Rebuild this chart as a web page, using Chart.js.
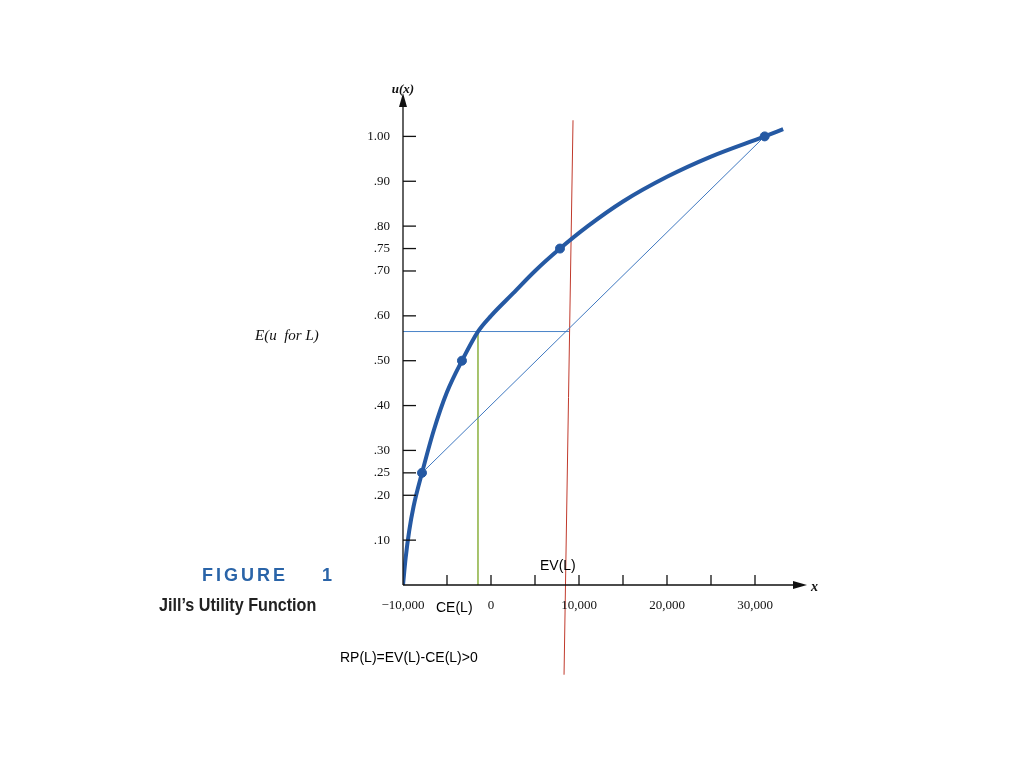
<!DOCTYPE html>
<html><head><meta charset="utf-8">
<script src="https://cdn.jsdelivr.net/npm/chart.js@4"></script>
<style>html,body{margin:0;background:#fff}#w{width:1024px;height:768px}</style>
</head><body><div id="w"><canvas id="c"></canvas></div>
<script>
const curveX = [-10000,-9700,-9300,-8800,-7840,-6500,-5000,-3300,-1480,0,2500,5000,7840,11000,15000,20000,25000,31100,33200];
const curveU = [0,0.06,0.12,0.175,0.25,0.345,0.43,0.5,0.565,0.6,0.65,0.7,0.75,0.8,0.855,0.91,0.955,1.0,1.016];
const lotteryX = [-7840,-3300,7840,31100];
const lotteryU = [0.25,0.5,0.75,1.0];
const chordX = [-7840,31100];
const chordU = [0.25,1.0];
const euX = [-10000,8860];
const euU = [0.565,0.565];
const ceX = [-1480,-1480];
const ceU = [0.565,0];
const evX = [9320,8300];
const evU = [1.036,-0.2];
const yTicks = [0.1,0.2,0.25,0.3,0.4,0.5,0.6,0.7,0.75,0.8,0.9,1.0];
const yTickLabels = [".10",".20",".25",".30",".40",".50",".60",".70",".75",".80",".90","1.00"];
const xTickMarks = [-5000,0,5000,10000,15000,20000,25000,30000];
const xTickVals = [-10000,0,10000,20000,30000];
const xTickLabels = ["\u221210,000","0","10,000","20,000","30,000"];

const pts=(xs,ys)=>xs.map((x,i)=>({x,y:ys[i]}));
const serif='"Liberation Serif", serif';
const sans='"Liberation Sans", sans-serif';

const deco={id:'deco',afterDraw(ch){
 const c=ch.ctx,x=ch.scales.x,y=ch.scales.y;
 const x0=x.getPixelForValue(-10000), y0=y.getPixelForValue(0);
 c.save();c.strokeStyle='#111';c.fillStyle='#111';c.lineWidth=1.3;
 c.beginPath();c.moveTo(x0,y0);c.lineTo(x0,y.top);c.moveTo(x0,y0);c.lineTo(x.right,y0);c.stroke();
 c.beginPath();c.moveTo(x0,y.top-12);c.lineTo(x0-4,y.top+2);c.lineTo(x0+4,y.top+2);c.fill();
 c.beginPath();c.moveTo(x.right+8,y0);c.lineTo(x.right-6,y0-4);c.lineTo(x.right-6,y0+4);c.fill();
 c.font='13px '+serif;c.textAlign='right';c.textBaseline='middle';
 yTicks.forEach((v,i)=>{const p=y.getPixelForValue(v);c.beginPath();c.moveTo(x0,p);c.lineTo(x0+13,p);c.stroke();c.fillText(yTickLabels[i],x0-13,p);});
 xTickMarks.forEach(v=>{const p=x.getPixelForValue(v);c.beginPath();c.moveTo(p,y0);c.lineTo(p,y0-10);c.stroke();});
 c.textAlign='center';c.textBaseline='top';
 xTickVals.forEach((v,i)=>{c.fillText(xTickLabels[i],x.getPixelForValue(v),y0+14);});
 c.font='italic bold 13px '+serif;c.textAlign='center';c.textBaseline='alphabetic';
 c.fillText('u(x)',x0,93);
 c.font='italic bold 14px '+serif;c.textAlign='left';c.fillText('x',x.right+12,y0+6);
 c.font='italic 15px '+serif;c.fillText('E(u  for L)',255,340);
 c.font='14px '+sans;c.fillStyle='#000';
 c.fillText('EV(L)',540,570);c.fillText('CE(L)',436,612);c.fillText('RP(L)=EV(L)-CE(L)>0',340,662);
 c.fillStyle='#2a64a8';c.font='bold 18px '+sans;
 if(c.letterSpacing!==undefined)c.letterSpacing='3px';
 c.fillText('FIGURE',202,581);c.fillText('1',322,581);
 if(c.letterSpacing!==undefined)c.letterSpacing='0px';
 c.fillStyle='#222';c.font='bold 19px "Liberation Sans Narrow", "Liberation Sans", sans-serif';
 c.save();c.translate(159,611);c.scale(0.85,1);c.fillText('Jill\u2019s Utility Function',0,0);c.restore();
 c.restore();
}};

new Chart(document.getElementById('c'),{
 type:'scatter',
 data:{datasets:[
  {data:pts(curveX,curveU),showLine:true,borderColor:'#2559a3',borderWidth:4,pointRadius:0,cubicInterpolationMode:'monotone'},
  {data:pts(chordX,chordU),showLine:true,borderColor:'#3f78c0',borderWidth:1,pointRadius:0},
  {data:pts(euX,euU),showLine:true,borderColor:'#4a84c8',borderWidth:1,pointRadius:0},
  {data:pts(ceX,ceU),showLine:true,borderColor:'#9bbb59',borderWidth:1,pointRadius:0},
  {data:pts(evX,evU),showLine:true,borderColor:'#c0392b',borderWidth:1,pointRadius:0,clip:false},
  {data:pts(lotteryX,lotteryU),pointRadius:4.5,pointBackgroundColor:'#2559a3',pointBorderColor:'#2559a3'}
 ]},
 options:{responsive:true,maintainAspectRatio:false,animation:false,
  layout:{padding:{left:403,top:105,right:225,bottom:183}},
  plugins:{legend:{display:false},tooltip:{enabled:false}},
  scales:{x:{type:'linear',min:-10000,max:35000,display:false},
          y:{type:'linear',min:0,max:1.07,display:false}}},
 plugins:[deco]
});
</script></body></html>
